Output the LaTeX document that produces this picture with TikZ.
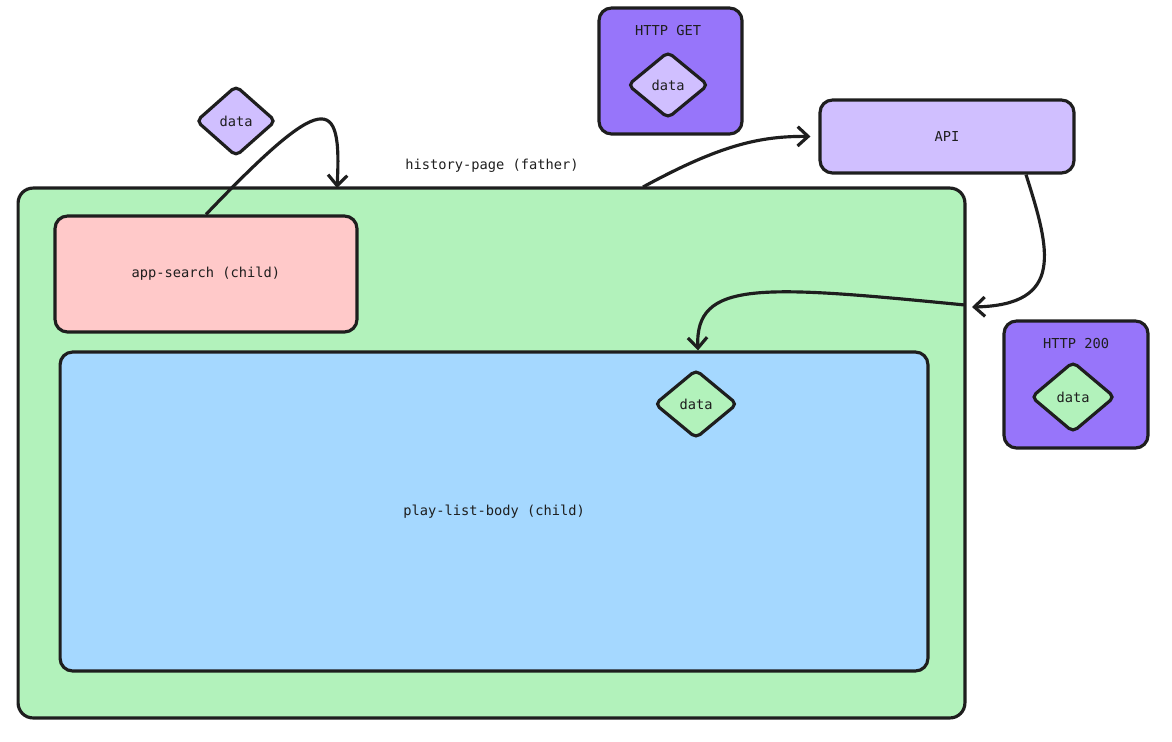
\documentclass[tikz,border=0pt]{standalone}
\usepackage{fontspec}
\setmonofont{DejaVu Sans Mono}
\usetikzlibrary{shapes.geometric,arrows.meta}
\definecolor{ink}{HTML}{1E1E1E}
\definecolor{green}{HTML}{B2F2BB}
\definecolor{red}{HTML}{FFC9C9}
\definecolor{blue}{HTML}{A5D8FF}
\definecolor{lilac}{HTML}{D0BFFF}
\definecolor{violet}{HTML}{9775FA}

\begin{document}
\begin{tikzpicture}[x=0.02cm,y=-0.02cm,
    every node/.style={font=\ttfamily\fontsize{7.8}{9}\selectfont,text=ink},
    box/.style={draw=ink,line width=1.8pt,rounded corners=0.25cm,inner sep=0pt},
    gem/.style={diamond,draw=ink,line width=1.8pt,rounded corners=3pt,inner sep=0pt},
    arr/.style={draw=ink,line width=1.8pt,-{Straight Barb[length=6pt,width=11pt]}}]
\useasboundingbox (0,0) rectangle (1172,741);
% containers
  \node[box,fill=green,rounded corners=0.3cm,minimum width=18.94cm,minimum height=10.6cm] (father) at (491.5,453) {};
  \node (title) at (492,166) {history-page (father)};
  \node[box,fill=red,minimum width=6.04cm,minimum height=2.32cm] (search) at (206,274) {app-search (child)};
  \node[box,fill=blue,minimum width=17.36cm,minimum height=6.38cm] (body) at (494,511.5) {play-list-body (child)};
  \node[box,fill=lilac,minimum width=5.08cm,minimum height=1.46cm] (api) at (947,136.5) {API};
  \node[box,fill=violet,minimum width=2.86cm,minimum height=2.52cm] (get) at (670.5,71) {};
  \node (gettitle) at (668,31) {HTTP GET};
  \node[box,fill=violet,minimum width=2.88cm,minimum height=2.54cm] (ok) at (1076,384.5) {};
  \node (oktitle) at (1076,344) {HTTP 200};
% data
  \node[gem,fill=lilac,minimum width=1.6cm,minimum height=1.42cm] (data) at (236,121) {data};
  \node[gem,fill=lilac,minimum width=1.62cm,minimum height=1.34cm] (getdata) at (668,85) {data};
  \node[gem,fill=green,minimum width=1.68cm,minimum height=1.42cm] (okdata) at (1073,397) {data};
  \node[gem,fill=green,minimum width=1.66cm,minimum height=1.38cm] (bodydata) at (696,404) {data};
% edge points
  \coordinate (fatherin)  at (337,188);
  \coordinate (fatherout) at (643,187);
  \coordinate (fatherret) at (972,307);
  \coordinate (fatherfwd) at (965,305);
  \draw[arr] (search.north) .. controls (325,90) and (342,95) .. (fatherin);
  \draw[arr,shorten >=0.16cm] (fatherout) .. controls (720,145) and (760,136) .. (api.west);
  \draw[arr] ([xshift=1.58cm]api.south) .. controls (1050,250) and (1065,305) .. (fatherret);
  \draw[arr] (fatherfwd) .. controls (760,285) and (695,280) .. ([xshift=4.08cm]body.north);
\end{tikzpicture}
\end{document}
